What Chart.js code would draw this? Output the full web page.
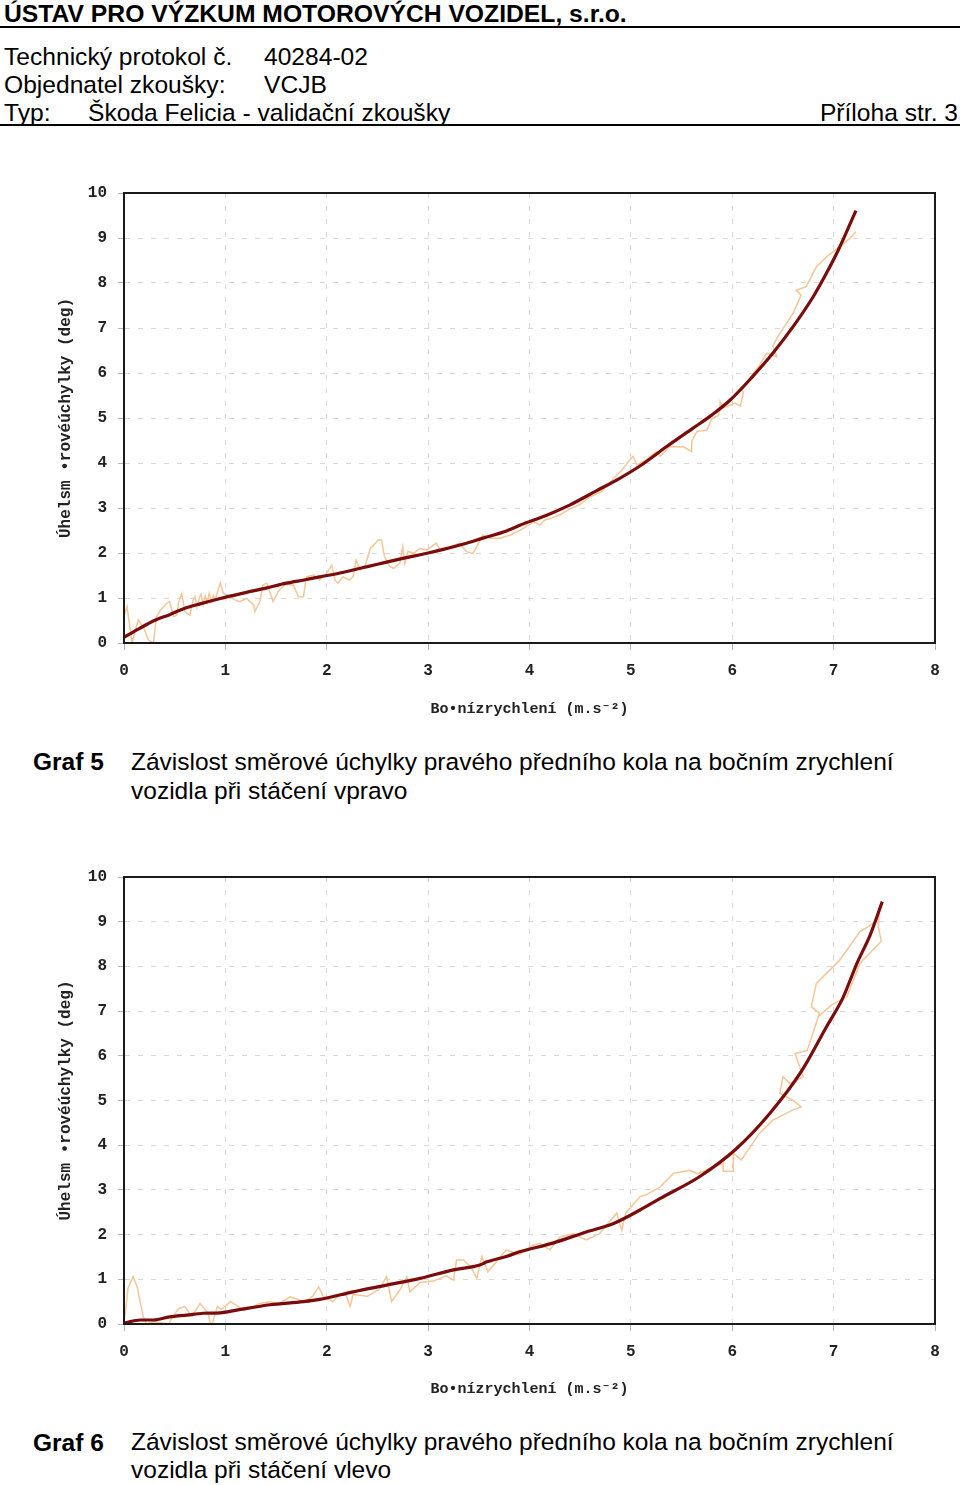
<!DOCTYPE html>
<html><head><meta charset="utf-8">
<script src="https://cdn.jsdelivr.net/npm/chart.js@4/dist/chart.umd.min.js"></script>
<style>
html,body{margin:0;padding:0;background:#fff;}
body{width:960px;height:1485px;position:relative;overflow:hidden;font-family:"Liberation Sans",Arial,sans-serif;color:#000;}
.t{position:absolute;white-space:nowrap;font-size:24.6px;line-height:28px;}
.rule{position:absolute;left:0;width:960px;height:2px;background:#000;}
.cv{position:absolute;left:0;}
.cap{position:absolute;left:131px;font-size:24.5px;line-height:29px;white-space:nowrap;}
.capl{position:absolute;left:33px;font-size:24.5px;line-height:29px;font-weight:bold;}
</style></head>
<body>
<div class="t" style="left:4px;top:1px;font-weight:bold;font-size:24.7px;line-height:26px;">ÚSTAV PRO VÝZKUM MOTOROVÝCH VOZIDEL, s.r.o.</div>
<div class="rule" style="top:26px;"></div>
<div class="t" style="left:4px;top:43px;">Technický protokol č.</div>
<div class="t" style="left:264px;top:43px;">40284-02</div>
<div class="t" style="left:4px;top:71px;">Objednatel zkoušky:</div>
<div class="t" style="left:264px;top:71px;">VCJB</div>
<div class="t" style="left:4px;top:99px;">Typ:</div>
<div class="t" style="left:88px;top:99px;">Škoda Felicia - validační zkoušky</div>
<div class="t" style="right:2px;top:99px;">Příloha str. 3</div>
<div class="rule" style="top:124px;"></div>

<canvas id="c1" class="cv" width="960" height="560" style="top:170px;"></canvas>
<div class="capl" style="top:747px;">Graf 5</div>
<div class="cap" style="top:747px;">Závislost směrové úchylky pravého předního kola na bočním zrychlení<br>vozidla při stáčení vpravo</div>

<canvas id="c2" class="cv" width="960" height="560" style="top:855px;"></canvas>
<div class="capl" style="top:1428px;">Graf 6</div>
<div class="cap" style="top:1428px;line-height:28px;">Závislost směrové úchylky pravého předního kola na bočním zrychlení<br>vozidla při stáčení vlevo</div>

<script>
// ---- axis ticks ----
const xTicks = [0, 1, 2, 3, 4, 5, 6, 7, 8];
const yTicks = [0, 1, 2, 3, 4, 5, 6, 7, 8, 9, 10];
const xTitle = "Bo•nízrychlení (m.s⁻²)";
const yTitle = "Úhelsm •rovéúchylky (deg)";

// ---- Graf 5: fitted curve [x, y] ----
const fit5 = [[0.00,0.13],[0.15,0.32],[0.30,0.50],[0.45,0.63],[0.60,0.77],[0.75,0.87],[0.95,0.99],[1.20,1.12],[1.40,1.22],[1.60,1.33],[1.80,1.41],[1.93,1.47],[2.10,1.54],[2.33,1.66],[2.50,1.75],[2.75,1.88],[3.00,2.00],[3.15,2.08],[3.35,2.20],[3.54,2.33],[3.75,2.47],[3.91,2.62],[4.17,2.84],[4.40,3.07],[4.65,3.37],[4.89,3.66],[5.10,3.95],[5.35,4.36],[5.61,4.77],[5.80,5.07],[5.98,5.40],[6.20,5.92],[6.40,6.44],[6.60,7.03],[6.80,7.70],[6.93,8.22],[7.05,8.75],[7.22,9.61]];

// ---- Graf 5: measured data [x, y] ----
const raw5 = [[0.00,0.60],[0.03,0.81],[0.08,0.00],[0.14,0.51],[0.19,0.36],[0.24,0.07],[0.29,0.00],[0.32,0.58],[0.36,0.73],[0.42,0.88],[0.45,0.92],[0.49,0.58],[0.52,0.62],[0.54,0.92],[0.57,1.10],[0.60,0.70],[0.65,0.62],[0.68,0.95],[0.70,1.03],[0.72,0.80],[0.74,0.98],[0.76,1.08],[0.78,0.85],[0.80,1.05],[0.82,0.90],[0.84,1.10],[0.86,0.92],[0.88,1.05],[0.90,0.96],[0.92,1.12],[0.95,1.33],[0.98,1.10],[1.05,1.03],[1.10,0.95],[1.14,0.92],[1.21,0.99],[1.28,0.84],[1.29,0.70],[1.34,0.92],[1.37,1.29],[1.41,1.33],[1.46,0.99],[1.47,0.92],[1.52,1.14],[1.59,1.30],[1.67,1.29],[1.72,1.03],[1.77,1.03],[1.80,1.47],[1.87,1.51],[1.93,1.40],[2.00,1.55],[2.05,1.73],[2.08,1.40],[2.11,1.33],[2.16,1.47],[2.22,1.40],[2.26,1.47],[2.29,1.84],[2.33,1.62],[2.38,1.73],[2.43,2.10],[2.51,2.29],[2.54,2.29],[2.57,1.92],[2.62,1.70],[2.66,1.66],[2.72,1.77],[2.75,2.14],[2.77,1.77],[2.80,2.03],[2.86,2.00],[2.92,2.10],[2.99,2.07],[3.08,2.22],[3.12,2.07],[3.20,2.12],[3.31,2.22],[3.35,2.10],[3.38,2.03],[3.44,1.99],[3.48,2.14],[3.54,2.40],[3.61,2.33],[3.71,2.33],[3.81,2.40],[3.91,2.51],[3.97,2.59],[4.04,2.70],[4.10,2.62],[4.15,2.73],[4.22,2.78],[4.30,2.85],[4.40,2.98],[4.50,3.08],[4.60,3.25],[4.70,3.35],[4.77,3.50],[4.83,3.66],[4.91,3.84],[4.99,4.07],[5.02,4.15],[5.06,3.96],[5.15,4.07],[5.25,4.25],[5.29,4.15],[5.38,4.36],[5.52,4.36],[5.60,4.25],[5.60,4.48],[5.65,4.70],[5.75,4.73],[5.80,4.99],[5.86,5.05],[5.88,5.18],[5.88,5.36],[5.91,5.22],[6.03,5.33],[6.08,5.26],[6.11,5.58],[6.09,5.62],[6.18,5.90],[6.27,6.18],[6.34,6.44],[6.44,6.36],[6.40,6.60],[6.45,6.81],[6.60,7.33],[6.68,7.73],[6.63,7.84],[6.73,7.92],[6.83,8.36],[6.93,8.58],[7.06,8.81],[7.16,8.99],[7.22,9.14]];

// ---- Graf 6: fitted curve [x, y] ----
const fit6 = [[0.00,0.02],[0.16,0.09],[0.29,0.09],[0.45,0.16],[0.62,0.20],[0.78,0.24],[0.95,0.25],[1.11,0.31],[1.44,0.43],[1.77,0.50],[1.93,0.55],[2.26,0.72],[2.59,0.87],[2.92,1.02],[3.25,1.21],[3.51,1.32],[3.58,1.39],[3.77,1.51],[3.91,1.62],[4.23,1.81],[4.56,2.06],[4.83,2.25],[5.09,2.55],[5.29,2.81],[5.68,3.30],[6.04,3.92],[6.37,4.71],[6.67,5.61],[6.93,6.65],[7.09,7.29],[7.23,8.07],[7.36,8.70],[7.48,9.45]];

// ---- Graf 6: measured data [x, y] ----
const raw6 = [[0.00,0.00],[0.04,0.80],[0.09,1.06],[0.13,0.83],[0.19,0.16],[0.22,0.00],[0.30,0.05],[0.44,0.00],[0.47,0.12],[0.54,0.35],[0.60,0.39],[0.67,0.17],[0.75,0.46],[0.83,0.24],[0.85,0.02],[0.87,0.00],[0.92,0.39],[0.96,0.33],[1.05,0.50],[1.13,0.39],[1.18,0.30],[1.26,0.38],[1.34,0.46],[1.44,0.50],[1.53,0.46],[1.64,0.61],[1.72,0.55],[1.77,0.48],[1.86,0.62],[1.92,0.83],[1.97,0.61],[2.06,0.50],[2.12,0.64],[2.19,0.65],[2.23,0.39],[2.26,0.66],[2.40,0.62],[2.52,0.78],[2.59,1.06],[2.64,0.50],[2.72,0.76],[2.79,1.06],[2.82,0.72],[2.92,0.93],[3.05,0.96],[3.18,1.08],[3.25,0.98],[3.28,1.43],[3.35,1.43],[3.43,1.25],[3.48,1.02],[3.53,1.51],[3.59,1.17],[3.65,1.33],[3.77,1.66],[3.90,1.55],[4.02,1.75],[4.10,1.81],[4.20,1.66],[4.30,1.95],[4.43,2.02],[4.56,1.88],[4.69,2.02],[4.86,2.48],[4.91,2.10],[4.95,2.48],[5.09,2.85],[5.15,2.89],[5.28,3.05],[5.42,3.37],[5.58,3.44],[5.66,3.36],[5.80,3.50],[5.91,3.59],[5.91,3.42],[6.01,3.42],[6.01,3.82],[6.09,3.67],[6.27,4.27],[6.40,4.56],[6.60,4.79],[6.68,4.86],[6.60,5.00],[6.47,5.16],[6.50,5.53],[6.57,5.38],[6.70,5.53],[6.62,6.05],[6.74,6.12],[6.86,6.95],[6.78,7.10],[6.83,7.62],[7.06,8.14],[7.26,8.78],[7.42,9.00],[7.45,9.20],[7.44,8.90],[7.47,8.56],[7.26,8.07],[7.13,7.32],[6.98,7.14],[6.86,6.90]];

const MONO = "'Liberation Mono','DejaVu Sans Mono',monospace";

const framePlugin = {
  id: 'frame',
  afterDatasetsDraw(chart) {
    const {ctx, chartArea: a} = chart;
    ctx.save();
    ctx.setLineDash([]);
    ctx.strokeStyle = '#1a1a1a';
    ctx.lineWidth = 2;
    ctx.strokeRect(a.left, a.top, a.right - a.left, a.bottom - a.top);
    ctx.restore();
  }
};

function toPts(arr) { return arr.map(p => ({x: p[0], y: p[1]})); }

function makeChart(id, fit, raw, lay) {
  return new Chart(document.getElementById(id), {
    type: 'scatter',
    data: {
      datasets: [
        {data: toPts(fit), showLine: true, borderColor: '#7a0c0c', borderWidth: 3.2, pointRadius: 0, cubicInterpolationMode: 'monotone', order: 1},
        {data: toPts(raw), showLine: true, borderColor: '#f5c697', borderWidth: 1.5, pointRadius: 0, tension: 0, order: 2}
      ]
    },
    options: {
      responsive: false,
      animation: false,
      devicePixelRatio: 1,
      layout: {padding: {left: 56, right: 25, top: lay.top, bottom: lay.bottom}},
      plugins: {legend: {display: false}, tooltip: {enabled: false}, title: {display: false}},
      scales: {
        x: {
          type: 'linear', min: 0, max: 8,
          afterBuildTicks: s => { s.ticks = xTicks.map(v => ({value: v})); },
          afterFit: s => { s.height = lay.xh; },
          grid: {color: '#d9d9d9', lineWidth: 1, tickLength: 7, tickColor: '#b5b5b5', tickBorderDash: [], drawTicks: true},
          border: {display: true, color: '#1a1a1a', width: 2, dash: [5, 8]},
          ticks: {color: '#222', padding: 11, font: {family: MONO, size: 16, weight: 'bold'}, maxRotation: 0, autoSkip: false},
          title: {display: true, text: xTitle, color: '#222', padding: 0, font: {family: MONO, size: 15, weight: 'bold'}}
        },
        y: {
          type: 'linear', min: 0, max: 10,
          afterBuildTicks: s => { s.ticks = yTicks.map(v => ({value: v})); },
          afterFit: s => { s.width = 68; },
          grid: {color: '#d9d9d9', lineWidth: 1, tickLength: 6, tickColor: '#b5b5b5', tickBorderDash: [], drawTicks: true},
          border: {display: true, color: '#1a1a1a', width: 2, dash: [5, 8]},
          ticks: {color: '#222', padding: 11, font: {family: MONO, size: 16, weight: 'bold'}, autoSkip: false},
          title: {display: true, text: yTitle, color: '#222', padding: 0, font: {family: MONO, size: 16, weight: 'bold'}}
        }
      }
    },
    plugins: [framePlugin]
  });
}

makeChart('c1', fit5, raw5, {top: 23, bottom: 12, xh: 75});
makeChart('c2', fit6, raw6, {top: 22, bottom: 17, xh: 74});
</script>
</body></html>
